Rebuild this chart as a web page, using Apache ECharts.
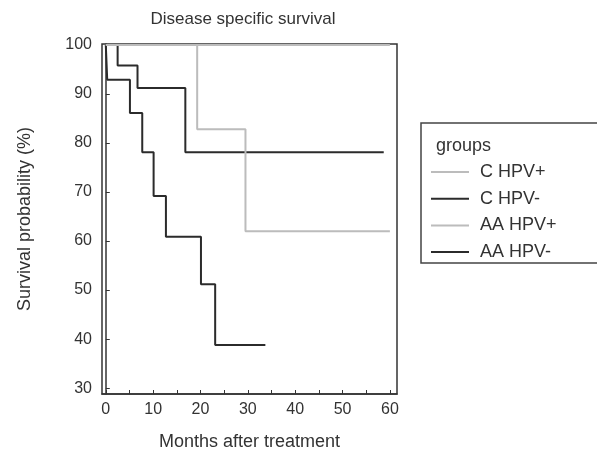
<!DOCTYPE html>
<html>
<head>
<meta charset="utf-8">
<script src="https://cdn.jsdelivr.net/npm/echarts@6/dist/echarts.min.js"></script>
<style>html,body{margin:0;padding:0;background:#fff}#c{width:597px;height:458px}</style>
</head>
<body>
<div id="c"></div>
<script>
// Data (months after treatment, survival %)
const groupNames = ['C HPV+', 'C HPV-', 'AA HPV+', 'AA HPV-'];
const cHpvPosMonths = [0, 19.3, 29.5, 60];
const cHpvPosSurv   = [100, 82.8, 62.0, 62.0];
const cHpvNegMonths = [0, 2.5, 6.7, 16.8, 58.7];
const cHpvNegSurv   = [100, 95.8, 91.2, 78.1, 78.1];
const aaHpvPosMonths = [0, 60];
const aaHpvPosSurv   = [100, 100];
const aaHpvNegMonths = [0, 0.3, 5.1, 7.7, 10.1, 12.7, 20.1, 23.1, 33.7];
const aaHpvNegSurv   = [100, 92.9, 86.1, 78.1, 69.2, 60.9, 51.2, 38.8, 38.8];
const xTickValues = [0, 5, 10, 15, 20, 25, 30, 35, 40, 45, 50, 55, 60];
const xLabelValues = [0, 10, 20, 30, 40, 50, 60];
const yTickValues = [30, 40, 50, 60, 70, 80, 90, 100];

const zip = (a, b) => a.map((v, i) => [v, b[i]]);
const LIGHT = '#bcbcbc', DARK = '#2b2b2b', TXT = '#333';
const seriesDefs = [
  { name: groupNames[0], data: zip(cHpvPosMonths, cHpvPosSurv), color: LIGHT },
  { name: groupNames[1], data: zip(cHpvNegMonths, cHpvNegSurv), color: DARK },
  { name: groupNames[2], data: zip(aaHpvPosMonths, aaHpvPosSurv), color: LIGHT },
  { name: groupNames[3], data: zip(aaHpvNegMonths, aaHpvNegSurv), color: DARK }
];
const font = 'Liberation Sans, Arial, sans-serif';

const chart = echarts.init(document.getElementById('c'), null, { renderer: 'canvas' });
chart.setOption({
  animation: false,
  backgroundColor: '#fff',
  textStyle: { fontFamily: font },
  title: [
    { text: 'Disease specific survival', left: 238, top: 6, textAlign: 'center',
      textStyle: { fontSize: 17, fontWeight: 'normal', color: TXT, fontFamily: font } },
    { text: 'groups', left: 431, top: 132,
      textStyle: { fontSize: 18, fontWeight: 'normal', color: TXT, fontFamily: font } }
  ],
  grid: { left: 102, right: 200, top: 44, bottom: 64, show: true,
          borderColor: '#333', borderWidth: 1.5, backgroundColor: 'transparent' },
  legend: {
    orient: 'vertical', left: 421, top: 123,
    padding: [40, 60, 2, 10],
    borderColor: '#444', borderWidth: 1.5,
    itemWidth: 38, itemHeight: 2, itemGap: 8.7,
    icon: 'rect',
    textStyle: { fontSize: 18, lineHeight: 18, color: TXT, fontFamily: font, padding: [0, 0, 0, 6] },
    data: groupNames.map(n => ({ name: n }))
  },
  xAxis: {
    type: 'value', min: -0.8, max: 61.5,
    name: 'Months after treatment', nameLocation: 'middle', nameGap: 39,
    nameTextStyle: { fontSize: 18, color: TXT, fontFamily: font },
    axisLine: { show: true, lineStyle: { color: '#333', width: 1.5 } },
    axisTick: { show: true, inside: true, length: 4, customValues: xTickValues, lineStyle: { color: '#333' } },
    axisLabel: { customValues: xLabelValues, fontSize: 16, color: TXT, margin: 8, fontFamily: font },
    splitLine: { show: false }
  },
  yAxis: {
    type: 'value', min: 28.8, max: 100.2,
    name: 'Survival probability (%)', nameLocation: 'middle', nameGap: 68,
    nameTextStyle: { fontSize: 18, color: TXT, fontFamily: font },
    axisLine: { show: true, lineStyle: { color: '#333', width: 1.5 } },
    axisTick: { show: true, inside: true, length: 4, customValues: yTickValues, lineStyle: { color: '#333' } },
    axisLabel: { customValues: yTickValues, fontSize: 16, color: TXT, margin: 10, fontFamily: font },
    splitLine: { show: false }
  },
  series: seriesDefs.map((s, i) => ({
    name: s.name, type: 'line', step: 'end', data: s.data,
    symbol: 'none', color: s.color, z: s.color === LIGHT ? 3 : 2,
    lineStyle: { color: s.color, width: 2 }
  }))
});
</script>
</body>
</html>
